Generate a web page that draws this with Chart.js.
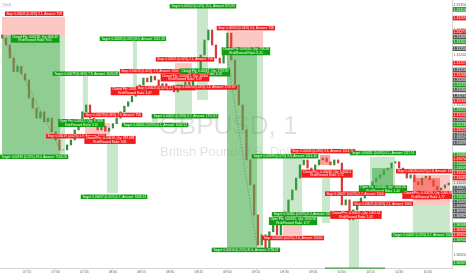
<!DOCTYPE html>
<html>
<head>
<meta charset="utf-8">
<script src="https://cdn.jsdelivr.net/npm/chart.js@4.4.1/dist/chart.umd.min.js"></script>
<style>
html, body { margin: 0; padding: 0; background: #fff; }
canvas { display: block; }
</style>
</head>
<body>
<canvas id="chart" width="466" height="275"></canvas>
<script>
// GBPUSD 1 minute, x values are minutes after 07:00
const timeTicks = [15, 30, 45, 60, 75, 90, 105, 120, 135, 150, 165, 180, 195, 210, 225];
const timeLabels = ["07:15", "07:30", "07:45", "08:00", "08:15", "08:30", "08:45", "09:00",
                    "09:15", "09:30", "09:45", "10:00", "10:15", "10:30", "10:45"];
const priceTicks = [1.3132, 1.3128, 1.3124, 1.3120, 1.3116, 1.3112, 1.3108, 1.3104, 1.3100, 1.3096, 1.3092];

const firstOpen = 1.31272;
const candleStart = 2;
const candleStep = 2;
const closes = [
    1.31267, 1.31256, 1.31235, 1.31213, 1.31222, 1.31210, 1.31200, 1.31171, 1.31155, 1.31139,
    1.31149, 1.31133, 1.31139, 1.31117, 1.31104, 1.31088, 1.31088, 1.31096, 1.31104, 1.31120,
    1.31126, 1.31149, 1.31160, 1.31139, 1.31125, 1.31120, 1.31126, 1.31118, 1.31123, 1.31130,
    1.31139, 1.31149, 1.31158, 1.31165, 1.31174, 1.31181, 1.31192, 1.31203, 1.31197, 1.31206,
    1.31200, 1.31187, 1.31194, 1.31184, 1.31190, 1.31181, 1.31192, 1.31187, 1.31197, 1.31190,
    1.31200, 1.31216, 1.31240, 1.31264, 1.31280, 1.31256, 1.31235, 1.31227, 1.31251, 1.31275,
    1.31232, 1.31192, 1.31160, 1.31120, 1.31072, 1.31032, 1.30984, 1.30936, 1.30952, 1.30928,
    1.30957, 1.30968, 1.30952, 1.30973, 1.30989, 1.31008, 1.31024, 1.31043, 1.31064, 1.31072,
    1.31059, 1.31053, 1.31064, 1.31072, 1.31075, 1.31069, 1.31064, 1.31072, 1.31067, 1.31000,
    1.31008, 1.30976, 1.30992, 1.31000, 1.31011, 1.31021, 1.31027, 1.31037, 1.31043, 1.31048,
    1.31056, 1.31059, 1.31067, 1.31069, 1.31059, 1.31053, 1.31043, 1.31048, 1.31037, 1.31032,
    1.31043, 1.31046, 1.31040, 1.31030, 1.31024, 1.31027, 1.31032, 1.31035
];

// position zones: kind, from minute, to minute, top price, bottom price
const zones = [
    ["r", 1.9, 34.9, 1.31301, 1.31272],
    ["g", 1.9, 32.3, 1.31272, 1.31080],
    ["lg", 32.3, 34.9, 1.31272, 1.31080],
    ["lg", 44.3, 46.9, 1.31206, 1.31139],
    ["lg", 70.5, 72.6, 1.31264, 1.31187],
    ["r", 45.4, 58.5, 1.31131, 1.31112],
    ["lg", 56.9, 62.7, 1.31101, 1.31019],
    ["lg", 80.5, 83.6, 1.31144, 1.31133],
    ["r", 92.5, 101.4, 1.31227, 1.31213],
    ["lg", 92.5, 101.4, 1.31197, 1.31136],
    ["lg", 104.1, 109.8, 1.31315, 1.31168],
    ["r", 119.8, 138.7, 1.31278, 1.31240],
    ["g", 119.8, 135.5, 1.31240, 1.30931],
    ["lg", 135.5, 138.7, 1.31240, 1.30931],
    ["lg", 149.1, 159.1, 1.31075, 1.30979],
    ["r", 149.1, 159.1, 1.30968, 1.30952],
    ["dr", 168.5, 173.8, 1.31080, 1.31064],
    ["lg", 169.6, 173.8, 1.31043, 1.30971],
    ["lg", 183.7, 189.0, 1.30979, 1.30899],
    ["lg", 194.7, 207.8, 1.31077, 1.31024],
    ["g", 195.8, 206.8, 1.31059, 1.31030],
    ["r", 217.2, 236.6, 1.31048, 1.31000],
    ["dr", 217.2, 231.4, 1.31043, 1.31008],
    ["lg", 217.2, 236.6, 1.31000, 1.30955]
];

// dotted trade paths: from minute, from price, to minute, to price
const tradeLines = [
    [1.9, 1.31272, 33.3, 1.31083],
    [119.8, 1.31240, 135.5, 1.30933]
];

// labels: kind, minute, price, text lines
const tags = [
    ["r", 18.7, 1.31306, "Stop: 0.00021 (0.02%) 2.1, Amount: 758"],
    ["g", 19.2, 1.31266, "Closed Pts: 0.00190, Qty: 806.63", "Risk/Reward Ratio: 9.05"],
    ["g", 18.7, 1.31077, "Target: 0.00190 (0.15%) 19.0, Amount: 7556.20"],
    ["g", 45.9, 1.31210, "Target: 0.00079 (0.06%) 7.9, Amount: 1020.28"],
    ["g", 70.5, 1.31266, "Target: 0.00085 (0.06%) 8.5, Amount: 1011.58"],
    ["r", 79.4, 1.31214, "Stop: 0.00019 (0.02%) 1.9, Amount: 1000"],
    ["r", 71.6, 1.31182, "Closed Pts: -0.00019, Qty: 10000", "Risk/Reward Ratio: 4.47"],
    ["r", 87.8, 1.31187, "Stop: 0.00021 (0.02%) 2.1, Amount: 1000"],
    ["g", 107.2, 1.31318, "Target: 0.00152 (0.12%) 15.2, Amount: 875.93"],
    ["r", 129.7, 1.31283, "Stop: 0.00050 (0.04%) 5.0, Amount: 758"],
    ["g", 129.7, 1.31246, "Closed Pts: 0.00310, Qty: 758.18", "Risk/Reward Ratio: 6.20"],
    ["r", 97.8, 1.31233, "Stop: 0.00021 (0.02%) 2.1, Amount: 758"],
    ["g", 108.3, 1.31212, "Closed Pts: 0.00067, Qty: 1757.67", "Risk/Reward Ratio: 3.19"],
    ["r", 97.8, 1.31204, "Closed Pts: -0.00021, Qty: 10000", "Risk/Reward Ratio: 3.19"],
    ["r", 108.3, 1.31188, "Stop: 0.00024 (0.02%) 2.4, Amount: 1757.67"],
    ["g", 97.8, 1.31142, "Target: 0.00067 (0.05%) 6.7, Amount: 1757.67"],
    ["g", 43.5, 1.31131, "Open Pts: 0.00012, Qty: 9.7695", "Risk/Reward Ratio: 3.52"],
    ["r", 60.1, 1.31144, "Stop: 0.00079 (0.06%) 7.9, Amount: 758"],
    ["g", 82.1, 1.31128, "Target: 0.00061 (0.05%) 6.1, Amount: 1002.52"],
    ["r", 40.7, 1.31110, "Stop: 0.00019 (0.02%) 1.9, Amount: 1000"],
    ["r", 58.5, 1.31104, "Closed Pts: -0.00019, Qty: 987.698", "Risk/Reward Ratio: 3.81"],
    ["g", 60.6, 1.31013, "Target: 0.00057 (0.05%) 5.7, Amount: 1636.23"],
    ["g", 150.2, 1.31078, "Target: 0.00098 (0.07%) 9.8, Amount: 1014.30"],
    ["r", 170.1, 1.31086, "Stop: 0.00036 (0.03%) 3.6, Amount: 1014.30"],
    ["r", 172.2, 1.31050, "Closed Pts: -0.00036, Qty: 10000.2", "Risk/Reward Ratio: 2.72"],
    ["g", 201.5, 1.31083, "Target: 0.00051 (0.04%) 5.1, Amount: 1117.51"],
    ["r", 224.1, 1.31054, "Stop: 0.00028 (0.02%) 2.8, Amount: 1000"],
    ["g", 159.6, 1.30985, "Target: 0.00060 (0.05%) 6.0, Amount: 1000"],
    ["g", 154.4, 1.30974, "Open Pts: 0.00015, Qty: 1000.58", "Risk/Reward Ratio: 3.77"],
    ["r", 154.4, 1.30947, "Stop: 0.00020 (0.02%) 2.0, Amount: 10000"],
    ["g", 129.7, 1.30928, "Target: 0.00310 (0.25%) 31.0, Amount: 1758.67"],
    ["g", 201.5, 1.31025, "Open Pts: 0.00040, Qty: 1002.58", "Risk/Reward Ratio: 1.40"],
    ["r", 186.9, 1.31018, "Stop: 0.00027 (0.02%) 2.7, Amount: 1000"],
    ["r", 201.5, 1.31002, "Stop: 0.00021 (0.02%) 2.1, Amount: 1000"],
    ["r", 187.4, 1.30984, "Closed Pts: -0.00021, Qty: 1002.54", "Risk/Reward Ratio: 1.03"],
    ["r", 225.1, 1.31016, "Closed Pts: -0.00028, Qty: 1000.58", "Risk/Reward Ratio: 1.77"],
    ["g", 223.5, 1.30952, "Target: 0.00067 (0.05%) 6.7, Amount: 1002.00"]
];

// price badges on the right axis
const axisPrices = [1.31313, 1.31299, 1.31277, 1.31269, 1.31261, 1.31250, 1.31227, 1.31216, 1.31208, 1.31200,
                    1.31192, 1.31184, 1.31174, 1.31166, 1.31152, 1.31144, 1.31136, 1.31128, 1.31120, 1.31112,
                    1.31107, 1.31099, 1.31080, 1.31074, 1.31066, 1.31059, 1.31051, 1.31043, 1.31035, 1.31027,
                    1.31021, 1.31013, 1.31005, 1.30998, 1.30990, 1.30982, 1.30968, 1.30960, 1.30952, 1.30944,
                    1.30907];
const axisKinds = ["g", "r", "r", "d", "g", "d", "r", "d", "r", "d",
                   "g", "d", "d", "r", "g", "r", "d", "g", "r", "d",
                   "d", "d", "g", "r", "g", "g", "r", "r", "c", "d",
                   "d", "g", "d", "d", "d", "d", "g", "r", "r", "g",
                   "g"];

const timeHighlight = [171.1, 202.6];

let prev = firstOpen;
const candles = closes.map((c, i) => {
    const d = {x: candleStart + i * candleStep, y: [prev, c]};
    prev = c;
    return d;
});
const candleColors = candles.map(d => d.y[1] >= d.y[0] ? "#2f8f3a" : "#d93a3a");

const zoneFill = {
    g: "rgba(76,175,80,0.62)",
    lg: "rgba(76,175,80,0.3)",
    r: "rgba(244,67,54,0.3)",
    dr: "rgba(244,67,54,0.5)"
};

const positionPlugin = {
    id: "positions",
    beforeDatasetsDraw(chart) {
        const {ctx, chartArea} = chart;
        const cx = (chartArea.left + chartArea.right) / 2;
        const cy = (chartArea.top + chartArea.bottom) / 2;
        ctx.save();
        ctx.fillStyle = "rgba(0,0,0,0.12)";
        ctx.textAlign = "center";
        ctx.textBaseline = "middle";
        ctx.font = "26px 'Liberation Sans'";
        ctx.fillText("GBPUSD, 1", cx + 2, cy - 7);
        ctx.font = "13px 'Liberation Sans'";
        ctx.fillText("British Pound/U.S. Dollar", cx + 6, cy + 18);
        ctx.restore();
    },
    afterDatasetsDraw(chart) {
        const {ctx, chartArea} = chart;
        const xs = chart.scales.x, ys = chart.scales.y;
        ctx.save();
        ctx.beginPath();
        ctx.rect(chartArea.left, chartArea.top, chartArea.right - chartArea.left, chartArea.bottom - chartArea.top);
        ctx.clip();

        zones.forEach(([k, m1, m2, p1, p2]) => {
            const x1 = xs.getPixelForValue(m1), x2 = xs.getPixelForValue(m2);
            const y1 = ys.getPixelForValue(p1), y2 = ys.getPixelForValue(p2);
            ctx.fillStyle = zoneFill[k];
            ctx.fillRect(x1, y1, x2 - x1, y2 - y1);
        });

        ctx.strokeStyle = "rgba(70,70,70,0.55)";
        ctx.lineWidth = 0.7;
        ctx.setLineDash([1.5, 1.5]);
        tradeLines.forEach(([m1, p1, m2, p2]) => {
            ctx.beginPath();
            ctx.moveTo(xs.getPixelForValue(m1), ys.getPixelForValue(p1));
            ctx.lineTo(xs.getPixelForValue(m2), ys.getPixelForValue(p2));
            ctx.stroke();
        });
        ctx.setLineDash([]);

        ctx.font = "3.1px 'Liberation Sans'";
        ctx.textAlign = "center";
        ctx.textBaseline = "middle";
        const lineH = 3.5;
        tags.forEach(t => {
            const [k, m, p, ...lines] = t;
            const w = Math.max(...lines.map(s => ctx.measureText(s).width)) + 3;
            const h = lines.length * lineH + 1;
            const cx = xs.getPixelForValue(m), cy = ys.getPixelForValue(p);
            ctx.fillStyle = k === "g" ? "#129e12" : "#f21c1c";
            ctx.fillRect(cx - w / 2, cy - h / 2, w, h);
            ctx.fillStyle = "#fff";
            lines.forEach((s, i) => ctx.fillText(s, cx, cy - h / 2 + 0.5 + lineH / 2 + i * lineH));
        });
        ctx.restore();
    },
    afterDraw(chart) {
        const {ctx, chartArea, width} = chart;
        const xs = chart.scales.x, ys = chart.scales.y;
        ctx.save();
        // highlighted time range on the time axis
        ctx.fillStyle = "#43a047";
        const hx1 = xs.getPixelForValue(timeHighlight[0]);
        const hx2 = xs.getPixelForValue(timeHighlight[1]);
        ctx.fillRect(hx1, chartArea.bottom - 0.5, hx2 - hx1, 1.3);

        // price badges
        ctx.font = "3.4px 'Liberation Sans'";
        ctx.textAlign = "left";
        ctx.textBaseline = "middle";
        const badgeFill = {g: "#1e9e1e", r: "#f02020", d: "#555b5b", c: "#e3ece3"};
        axisPrices.forEach((p, i) => {
            const y = ys.getPixelForValue(p);
            const k = axisKinds[i];
            ctx.fillStyle = badgeFill[k];
            ctx.fillRect(chartArea.right + 0.8, y - 2.3, width - chartArea.right - 0.8, 4.6);
            ctx.fillStyle = k === "c" ? "#555" : "#fff";
            ctx.fillText(p.toFixed(5), chartArea.right + 1.6, y + 0.2);
        });

        ctx.fillStyle = "#999";
        ctx.font = "3.4px 'Liberation Sans'";
        ctx.fillText("72x00", chartArea.left + 2, chartArea.top + 5);
        ctx.restore();
    }
};

const ctx = document.getElementById("chart").getContext("2d");
const chart = new Chart(ctx, {
    type: "bar",
    data: {
        datasets: [{
            label: "GBPUSD",
            data: candles,
            backgroundColor: candleColors,
            borderWidth: 0,
            barThickness: 1.6,
            grouped: false
        }]
    },
    options: {
        responsive: false,
        animation: false,
        layout: {padding: 0},
        plugins: {
            legend: {display: false},
            tooltip: {enabled: false}
        },
        scales: {
            x: {
                type: "linear",
                min: 0.84,
                max: 237.7,
                offset: false,
                grid: {display: true, drawOnChartArea: false, offset: false, tickLength: 1.5, color: "#bbb"},
                border: {color: "#d4d4d4"},
                afterBuildTicks: scale => {
                    scale.ticks = timeTicks.map(v => ({value: v}));
                },
                afterFit: scale => {
                    scale.height = 7;
                    scale.paddingLeft = 0;
                    scale.paddingRight = 0;
                },
                ticks: {
                    autoSkip: false,
                    maxRotation: 0,
                    padding: 0.5,
                    color: "#666",
                    font: {size: 3.4, family: "Liberation Sans"},
                    callback: (v, i) => timeLabels[i]
                }
            },
            y: {
                position: "right",
                min: 1.30899,
                max: 1.31328,
                grid: {display: true, drawOnChartArea: false, drawTicks: false},
                border: {color: "#d4d4d4"},
                afterBuildTicks: scale => {
                    scale.ticks = priceTicks.map(v => ({value: v}));
                },
                afterFit: scale => {
                    scale.width = 14;
                    scale.paddingTop = 0;
                    scale.paddingBottom = 0;
                },
                ticks: {
                    padding: 1.6,
                    color: "#555",
                    font: {size: 3.4, family: "Liberation Sans"},
                    callback: v => v.toFixed(5)
                }
            }
        }
    },
    plugins: [positionPlugin]
});
</script>
</body>
</html>
